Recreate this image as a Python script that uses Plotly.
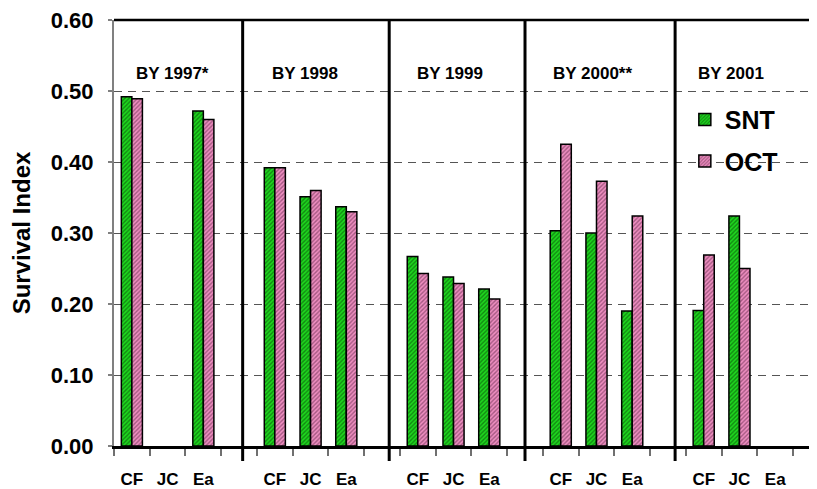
import plotly.graph_objects as go

brood_years = ["BY 1997*", "BY 1998", "BY 1999", "BY 2000**", "BY 2001"]
stocks = ["CF", "JC", "Ea"]
snt_values = [
    [0.492, None, 0.472],
    [0.392, 0.351, 0.337],
    [0.267, 0.238, 0.221],
    [0.303, 0.300, 0.190],
    [0.191, 0.324, None],
]
oct_values = [
    [0.489, None, 0.460],
    [0.392, 0.360, 0.330],
    [0.243, 0.229, 0.207],
    [0.425, 0.373, 0.324],
    [0.269, 0.250, None],
]
y_ticks = [0.0, 0.1, 0.2, 0.3, 0.4, 0.5, 0.6]
y_ticktext = ["0.00", "0.10", "0.20", "0.30", "0.40", "0.50", "0.60"]

slots_per_year = len(stocks) + 1
FONT = "Liberation Sans, Arial, sans-serif"

xs, snt, octv, tickvals, ticktext = [], [], [], [], []
for i, by in enumerate(brood_years):
    for j, s in enumerate(stocks):
        pos = i * slots_per_year + j
        xs.append(pos)
        snt.append(snt_values[i][j])
        octv.append(oct_values[i][j])
        tickvals.append(pos)
        ticktext.append(s)

fig = go.Figure()
fig.add_trace(go.Bar(
    x=xs, y=snt, name="SNT", legendgroup="a",
    marker=dict(color="#1ED81E", line=dict(color="black", width=1.5),
                pattern=dict(shape="/", fgcolor="#063806", size=3, solidity=0.45)),
))
fig.add_trace(go.Bar(
    x=xs, y=octv, name="OCT", legendgroup="b",
    marker=dict(color="#EE8EC0", line=dict(color="black", width=1.5),
                pattern=dict(shape="/", fgcolor="#5A2244", size=3, solidity=0.45)),
))

n_view = 19.17
# panel dividers (in the empty slot after each brood year)
div_offsets = [0.1, 0.2, 0.0, 0.2]
shapes = []
for i, off in enumerate(div_offsets):
    xd = i * slots_per_year + len(stocks) + off
    shapes.append(dict(type="line", xref="x", yref="paper", x0=xd, x1=xd,
                       y0=-0.035, y1=1, line=dict(color="black", width=3)))
# top border
shapes.append(dict(type="line", xref="paper", yref="paper", x0=0, x1=1, y0=1, y1=1,
                   line=dict(color="black", width=2.5)))

title_offsets = [0.15, -0.15, -0.1, -0.1, -0.25]
annotations = []
for i, by in enumerate(brood_years):
    annotations.append(dict(x=i * slots_per_year + 1 + title_offsets[i], y=0.525,
                            xref="x", yref="y", text=by, showarrow=False,
                            font=dict(family=FONT, size=17, color="black", weight="bold")))

fig.update_layout(
    width=809, height=481,
    margin=dict(l=106, r=0, t=8, b=41),
    paper_bgcolor="white", plot_bgcolor="white",
    barmode="group", bargap=0.41, bargroupgap=0,
    showlegend=True,
    legend=dict(x=0.812, y=0.82, xanchor="left", yanchor="top",
                font=dict(family=FONT, size=25, color="black", weight="bold"),
                bgcolor="rgba(0,0,0,0)", tracegroupgap=6, itemwidth=30),
    shapes=shapes, annotations=annotations,
    font=dict(family=FONT, color="black"),
)
fig.update_xaxes(
    range=[-0.5, n_view], tickvals=tickvals, ticktext=ticktext,
    ticks="", showgrid=False, zeroline=False,
    showline=True, linecolor="black", linewidth=3,
    tickfont=dict(family=FONT, size=17, color="black", weight="bold"),
    ticklabelstandoff=16, ticklabeloverflow="allow",
    minor=dict(ticks="outside", ticklen=7, tickwidth=1.5, tickcolor="#707070",
               tick0=-0.5, dtick=1, showgrid=False),
)
fig.update_yaxes(
    range=[0, 0.6], tickvals=y_ticks, ticktext=y_ticktext,
    ticks="outside", ticklen=4, tickcolor="#808080", tickwidth=1.5,
    showline=True, linecolor="#808080", linewidth=2,
    showgrid=True, gridcolor="#555555", gridwidth=1.3, griddash="8px,6px",
    zeroline=False,
    tickfont=dict(family=FONT, size=22, color="black", weight="bold"),
    ticklabelstandoff=10, ticklabeloverflow="allow",
    title=dict(text="Survival Index", standoff=13,
               font=dict(family=FONT, size=24, color="black", weight="bold")),
)

fig.write_html("out.html")
